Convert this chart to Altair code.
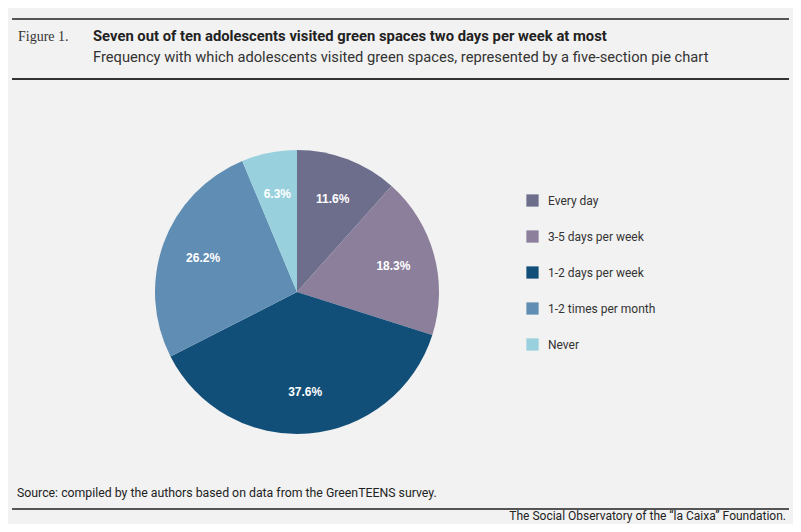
import altair as alt
import pandas as pd

categories = ["Every day", "3-5 days per week", "1-2 days per week", "1-2 times per month", "Never"]
values = [11.6, 18.3, 37.6, 26.2, 6.3]
labels = ["11.6%", "18.3%", "37.6%", "26.2%", "6.3%"]
colors = ["#6c6e8c", "#8c7f9c", "#124f78", "#5f8db3", "#98d1dd"]

fig_label = ["Figure 1."]
title_text = ["Seven out of ten adolescents visited green spaces two days per week at most"]
subtitle_text = ["Frequency with which adolescents visited green spaces, represented by a five-section pie chart"]
source_text = ["Source: compiled by the authors based on data from the GreenTEENS survey."]
footer_text = ["The Social Observatory of the \u201cla Caixa\u201d Foundation."]

W, H = 785, 516
CX, CY = 289, 284
SANS = "Roboto, Liberation Sans"

df = pd.DataFrame({"category": categories, "value": values, "label": labels, "order": list(range(len(values)))})

base = alt.Chart(df).encode(
    theta=alt.Theta("value:Q", stack=True),
    order=alt.Order("order:Q"),
)

pie = base.mark_arc(outerRadius=142).encode(
    x=alt.value(CX),
    y=alt.value(CY),
    color=alt.Color(
        "category:N",
        sort=categories,
        scale=alt.Scale(domain=categories, range=colors),
        legend=alt.Legend(
            title=None,
            orient="none",
            legendX=518,
            legendY=186,
            symbolType="square",
            symbolSize=150,
            symbolStrokeWidth=0,
            symbolOpacity=1,
            labelFont=SANS,
            labelFontSize=12,
            labelColor="#333333",
            labelOffset=9,
            rowPadding=23,
        ),
    ),
)

pie_labels = base.mark_text(
    radius=100, font="Liberation Sans", fontSize=12, fontWeight="bold", color="white"
).encode(
    x=alt.value(CX),
    y=alt.value(CY),
    text="label:N",
)


def text_layer(lst, x, y, size, font, weight="normal", align="left", color="#222222"):
    return alt.Chart(pd.DataFrame({"t": lst})).mark_text(
        align=align, baseline="alphabetic", fontSize=size, font=font,
        fontWeight=weight, color=color,
    ).encode(text="t:N", x=alt.value(x), y=alt.value(y))


def rule_layer(y, width, color):
    return alt.Chart(pd.DataFrame({"r": [0]})).mark_rule(
        color=color, strokeWidth=width
    ).encode(x=alt.value(4), x2=alt.value(781), y=alt.value(y))


layers = [
    rule_layer(11, 2, "#555555"),
    rule_layer(71, 2, "#333333"),
    rule_layer(501, 2, "#555555"),
    text_layer(fig_label, 10, 33, 14, "Liberation Serif, DejaVu Serif", color="#333333"),
    text_layer(title_text, 85, 33, 14.8, SANS, weight="bold", color="#222222"),
    text_layer(subtitle_text, 85, 54, 14.7, SANS, color="#333333"),
    text_layer(source_text, 9, 489, 12.3, SANS, color="#222222"),
    text_layer(footer_text, 778, 512, 12, SANS, align="right", color="#222222"),
    pie,
    pie_labels,
]

chart = alt.layer(*layers).properties(
    width=W, height=H, padding=0,
    autosize=alt.AutoSizeParams(type="none"),
    background="#f2f2f2",
).configure_view(stroke=None)

chart.save("out.html", embed_options={"renderer": "svg", "actions": False})
